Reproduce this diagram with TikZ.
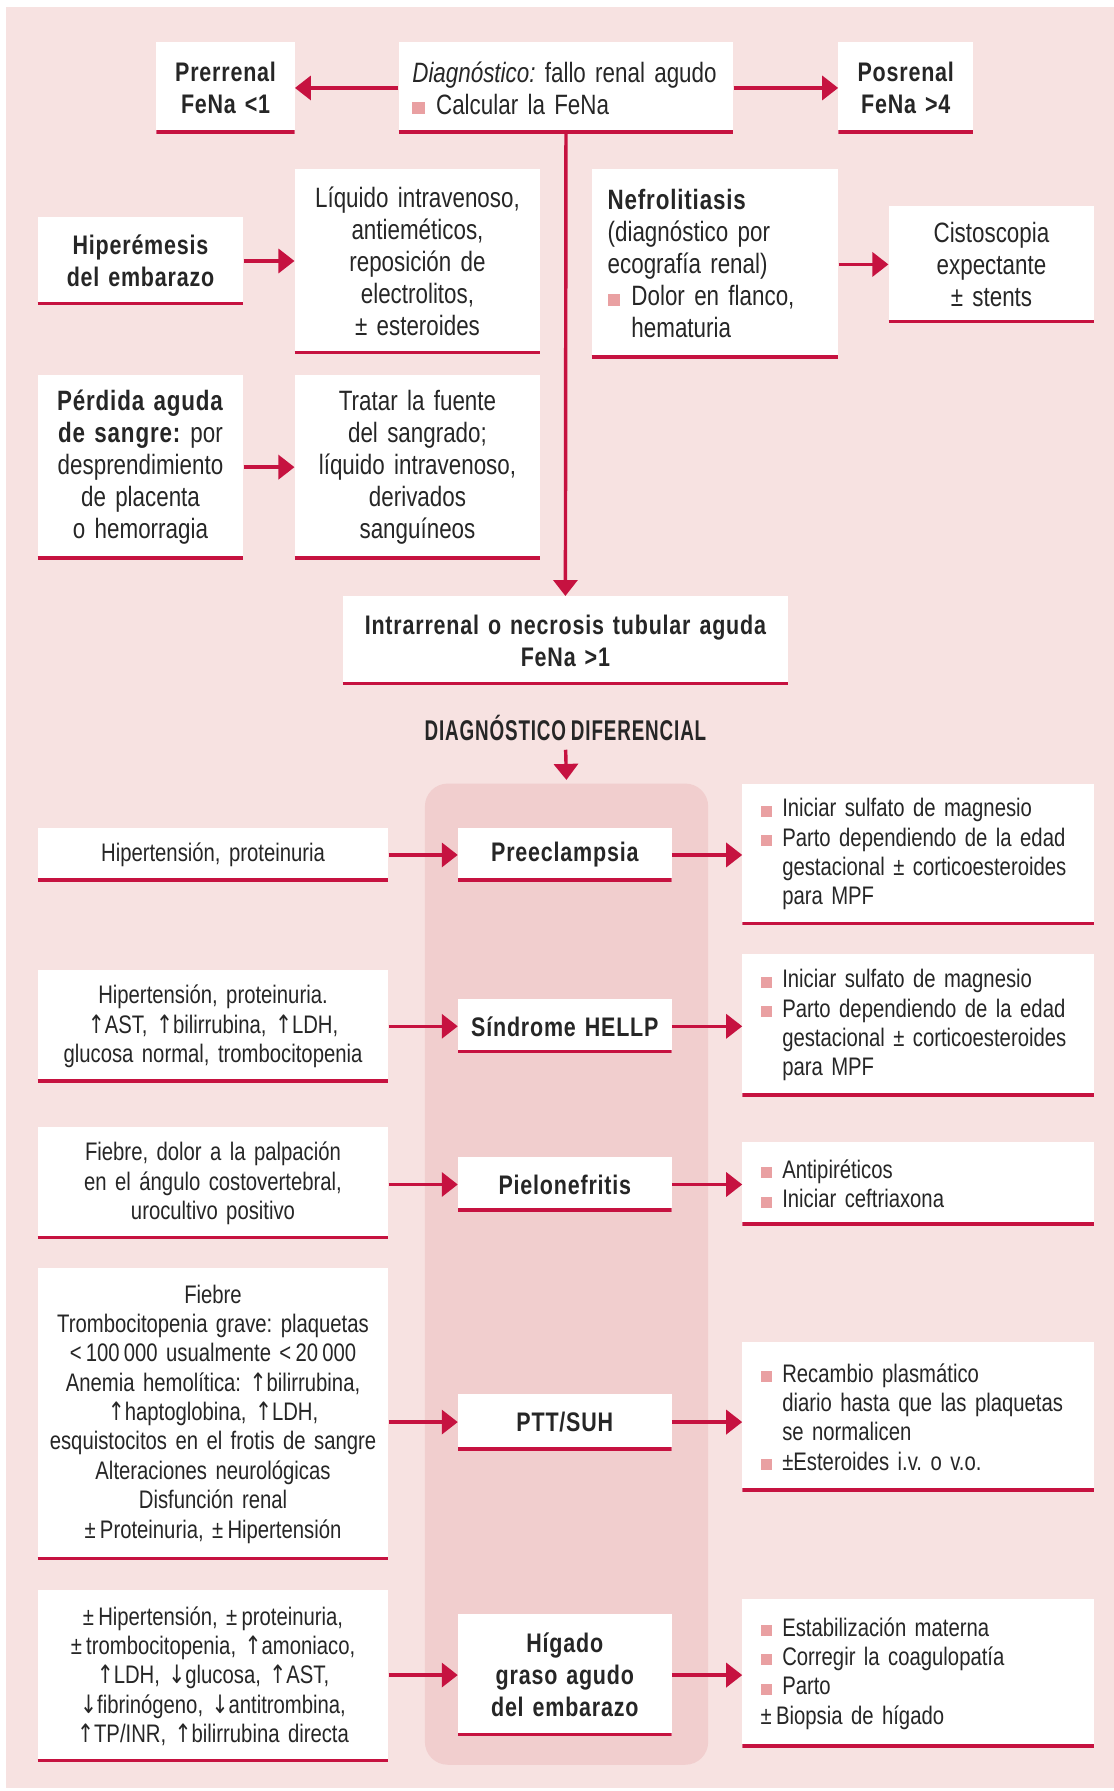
\documentclass[tikz,border=0pt]{standalone}
\usepackage{fontspec}
\setmainfont{Liberation Sans}[FakeStretch=0.8, WordSpace=0.8, BoldFeatures={LetterSpace=3}]
\newfontfamily\capsfont{Liberation Sans}[FakeStretch=0.66, WordSpace=0.8, LetterSpace=3]
\newfontfamily\arrowfont{DejaVu Sans}[FakeStretch=0.8]
\usetikzlibrary{arrows.meta}

\definecolor{paper}{RGB}{247,226,225}
\definecolor{column}{RGB}{241,206,206}
\definecolor{crimson}{RGB}{198,18,64}
\definecolor{bulletc}{RGB}{233,160,162}
\definecolor{ink}{RGB}{38,38,38}

% pink square bullet and the matching indent for continuation lines
\newcommand\bsq{\makebox[0.85em][l]{\textcolor{bulletc}{\rule{0.44em}{0.44em}}}}
\newcommand\bind{\hspace*{0.85em}}
% up / down arrows for lab values
\newcommand\ua{{\arrowfont ↑}}
\newcommand\da{{\arrowfont ↓}}

\tikzset{
  card/.style={fill=white, text=ink, inner xsep=8pt, inner ysep=0pt, align=center,
    path picture={\draw[crimson, line width=3pt]
      ([yshift=1.5pt]path picture bounding box.south west) --
      ([yshift=1.5pt]path picture bounding box.south east);}},
  uptxt/.style={font=\fontsize{24.5}{28}\selectfont},
  lowtxt/.style={font=\fontsize{22.2}{25.7}\selectfont},
  headtxt/.style={font=\fontsize{23.5}{28}\selectfont\bfseries},
  listcard/.style={align=left, inner xsep=16pt},
  arr/.style={crimson, line width=3pt, -{Triangle[length=14pt,width=21pt]}},
}

\begin{document}
\frenchspacing
\begin{tikzpicture}[x=1pt, y=-1pt]
\useasboundingbox (0,0) rectangle (975,1568);
\fill[white] (0,0) rectangle (975,1568);
\fill[paper] (5,6) rectangle (975,1565);

% shaded column behind the differential diagnoses
\node[fill=column, rounded corners=20pt, minimum width=248pt, minimum height=859pt, inner sep=0pt] (band) at (496,1115.5) {};

% ---------- upper part ----------
\node[card, uptxt, align=left, inner xsep=12pt, minimum width=293pt, text width=269pt, minimum height=80pt] (diag) at (495.5,77)
  {\textit{Diagnóstico:} fallo renal agudo\\\bsq Calcular la FeNa};
\node[card, headtxt, minimum width=121pt, text width=105pt, minimum height=80pt] (prer) at (197.5,77)
  {Prerrenal\\FeNa <1};
\node[card, headtxt, minimum width=118pt, text width=102pt, minimum height=80pt] (posr) at (793,77)
  {Posrenal\\FeNa >4};

\node[card, headtxt, minimum width=180pt, text width=164pt, minimum height=77pt] (hip) at (123,228.5)
  {Hiperémesis\\del embarazo};
\node[card, uptxt, minimum width=215pt, text width=199pt, minimum height=162pt] (liq) at (365.5,229)
  {Líquido intravenoso,\\antieméticos,\\reposición de\\electrolitos,\\± esteroides};
\node[card, uptxt, align=left, inner xsep=14pt, minimum width=216pt, text width=188pt, minimum height=166pt] (nefro) at (626,231)
  {\textbf{Nefrolitiasis}\\(diagnóstico por\\ecografía renal)\\\bsq Dolor en flanco,\\\bind hematuria};
\node[card, uptxt, minimum width=180pt, text width=164pt, minimum height=103pt] (cisto) at (868,231.5)
  {Cistoscopia\\expectante\\± stents};

\node[card, uptxt, inner xsep=4pt, minimum width=180pt, text width=172pt, minimum height=162pt] (perd) at (123,409)
  {\textbf{Pérdida aguda}\\\textbf{de sangre:} por\\desprendimiento\\de placenta\\o hemorragia};
\node[card, uptxt, minimum width=215pt, text width=199pt, minimum height=162pt] (trat) at (365.5,409)
  {Tratar la fuente\\del sangrado;\\líquido intravenoso,\\derivados\\sanguíneos};

\node[card, headtxt, minimum width=390pt, text width=374pt, minimum height=78pt] (intra) at (495,561)
  {Intrarrenal o necrosis tubular aguda\\FeNa >1};

\node[text=ink, font={\fontsize{25}{25}\capsfont\bfseries}, inner sep=0pt] (dd) at (495,637)
  {DIAGNÓSTICO DIFERENCIAL};

% ---------- differential diagnosis rows ----------
% Preeclampsia
\node[card, lowtxt, minimum width=307pt, text width=291pt, minimum height=47pt] (preL) at (186.5,748.5)
  {Hipertensión, proteinuria};
\node[card, headtxt, minimum width=187pt, text width=171pt, minimum height=47pt] (pre) at (494.5,748.5)
  {Preeclampsia};
\node[card, lowtxt, listcard, minimum width=308pt, text width=276pt, minimum height=124pt] (preT) at (804,748)
  {\bsq Iniciar sulfato de magnesio\\\bsq Parto dependiendo de la edad\\\bind gestacional ± corticoesteroides\\\bind para MPF};

% HELLP
\node[card, lowtxt, minimum width=307pt, text width=291pt, minimum height=99pt] (hellpL) at (186.5,898.5)
  {Hipertensión, proteinuria.\\\ua AST, \ua bilirrubina, \ua LDH,\\glucosa normal, trombocitopenia};
\node[card, headtxt, minimum width=187pt, text width=171pt, minimum height=47pt] (hellp) at (494.5,898.5)
  {Síndrome HELLP};
\node[card, lowtxt, listcard, minimum width=308pt, text width=276pt, minimum height=125pt] (hellpT) at (804,897.5)
  {\bsq Iniciar sulfato de magnesio\\\bsq Parto dependiendo de la edad\\\bind gestacional ± corticoesteroides\\\bind para MPF};

% Pielonefritis
\node[card, lowtxt, minimum width=307pt, text width=291pt, minimum height=98pt] (pieL) at (186.5,1036)
  {Fiebre, dolor a la palpación\\en el ángulo costovertebral,\\urocultivo positivo};
\node[card, headtxt, minimum width=187pt, text width=171pt, minimum height=48pt] (pie) at (494.5,1037)
  {Pielonefritis};
\node[card, lowtxt, listcard, minimum width=308pt, text width=276pt, minimum height=73pt] (pieT) at (804,1036.5)
  {\bsq Antipiréticos\\\bsq Iniciar ceftriaxona};

% PTT/SUH
\node[card, lowtxt, minimum width=307pt, text width=291pt, minimum height=256pt] (pttL) at (186.5,1238)
  {Fiebre\\Trombocitopenia grave: plaquetas\\<\,100\,000 usualmente <\,20\,000\\Anemia hemolítica: \ua bilirrubina,\\\ua haptoglobina, \ua LDH,\\esquistocitos en el frotis de sangre\\Alteraciones neurológicas\\Disfunción renal\\±\,Proteinuria, ±\,Hipertensión};
\node[card, headtxt, minimum width=187pt, text width=171pt, minimum height=50pt] (ptt) at (494.5,1245)
  {PTT/SUH};
\node[card, lowtxt, listcard, minimum width=308pt, text width=276pt, minimum height=131pt] (pttT) at (804,1240.5)
  {\bsq Recambio plasmático\\\bind diario hasta que las plaquetas\\\bind se normalicen\\\bsq ±Esteroides i.v. o v.o.};

% Higado graso agudo
\node[card, lowtxt, minimum width=307pt, text width=291pt, minimum height=151pt] (hgaL) at (186.5,1467.5)
  {±\,Hipertensión, ±\,proteinuria,\\±\,trombocitopenia, \ua amoniaco,\\\ua LDH, \da glucosa, \ua AST,\\\da fibrinógeno, \da antitrombina,\\\ua TP/INR, \ua bilirrubina directa};
\node[card, headtxt, minimum width=187pt, text width=171pt, minimum height=107pt] (hga) at (494.5,1466.5)
  {Hígado\\graso agudo\\del embarazo};
\node[card, lowtxt, listcard, minimum width=308pt, text width=276pt, minimum height=130pt] (hgaT) at (804,1465)
  {\bsq Estabilización materna\\\bsq Corregir la coagulopatía\\\bsq Parto\\±\,Biopsia de hígado};

% ---------- connectors ----------
\draw[arr] (diag.west) -- (prer.east);
\draw[arr] (diag.east) -- (posr.west);
\draw[arr] (diag.south) -- (intra.north);
\draw[arr] (hip.east) -- (hip.east -| liq.west);
\draw[arr] (nefro.east |- cisto.west) -- (cisto.west);
\draw[arr] (perd.east) -- (perd.east -| trat.west);
\draw[arr, shorten <=8pt, shorten >=3pt] (dd.south) -- (band.north);

\draw[arr] (preL.east |- pre.west) -- (pre.west);
\draw[arr] (pre.east) -- (pre.east -| preT.west);
\draw[arr] (hellpL.east |- hellp.west) -- (hellp.west);
\draw[arr] (hellp.east) -- (hellp.east -| hellpT.west);
\draw[arr] (pieL.east |- pie.west) -- (pie.west);
\draw[arr] (pie.east) -- (pie.east -| pieT.west);
\draw[arr] (pttL.east |- ptt.west) -- (ptt.west);
\draw[arr] (ptt.east) -- (ptt.east -| pttT.west);
\draw[arr] (hgaL.east |- hga.west) -- (hga.west);
\draw[arr] (hga.east) -- (hga.east -| hgaT.west);
\end{tikzpicture}
\end{document}
